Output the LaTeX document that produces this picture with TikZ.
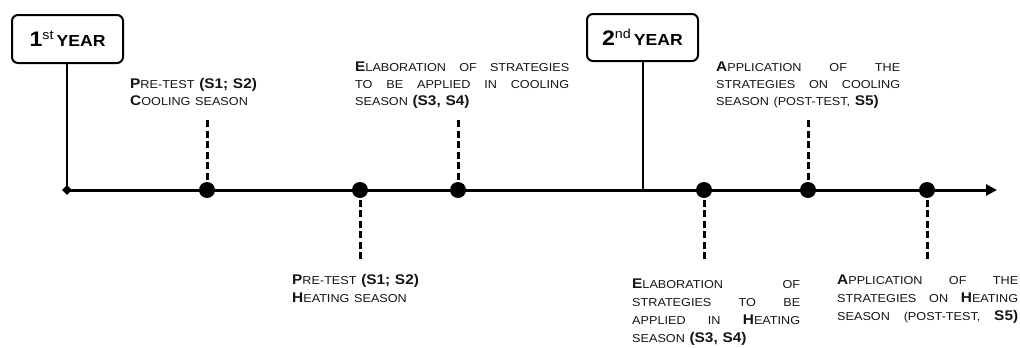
\documentclass[tikz,border=0pt]{standalone}
\usepackage{fontspec}
\usetikzlibrary{shapes.geometric,arrows.meta}
\newfontfamily\lab[FakeStretch=1.1]{Liberation Sans}
\definecolor{ink}{HTML}{141414}
\newcommand\Cp[1]{{\fontsize{14}{17}\selectfont\bfseries #1}}
\newcommand\Sm[1]{{\fontsize{11.5}{17}\selectfont #1}}
\newcommand\Bd[1]{{\fontsize{14}{17}\selectfont\bfseries #1}}
\newcommand\Jl[2]{\leavevmode\hbox to #1{\spaceskip=3.5pt plus 1fil\relax #2}}
\tikzset{
  yearbox/.style={draw=black, line width=2pt, rounded corners=6pt, minimum width=111pt, minimum height=48pt, inner sep=0pt, font=\lab, text=black},
  yearline/.style={line width=1.8pt},
  dot/.style={circle, fill=black, minimum size=16pt, inner sep=0pt},
  stem/.style={line width=3pt, dash pattern=on 7pt off 3.5pt},
  lbl/.style={anchor=base west, inner sep=0pt, align=left, text=ink},
  toplbl/.style={lbl, font=\lab\fontsize{14}{17}\selectfont},
  botlbl/.style={lbl, font=\lab\fontsize{14}{18}\selectfont},
}
\begin{document}
\begin{tikzpicture}[x=1pt,y=-1pt]
\useasboundingbox (0,0) rectangle (1020,348);
% year boxes
\node[yearbox] (y1) at (67.5,39) {{\fontsize{21}{21}\selectfont\bfseries 1}\raisebox{6.5pt}{\fontsize{13}{13}\selectfont st} {\fontsize{16}{16}\selectfont\bfseries YEAR}\hspace{5pt}};
\node[yearbox, minimum height=47pt] (y2) at (642.5,37.5) {{\fontsize{21}{21}\selectfont\bfseries 2}\raisebox{6.5pt}{\fontsize{13}{13}\selectfont nd} {\fontsize{16}{16}\selectfont\bfseries YEAR}};
% timeline
\coordinate (t0) at (67,190);
\coordinate (tend) at (997,190);
\coordinate (t2) at (643,190);
\draw[line width=3pt, -{Triangle[length=11pt,width=11pt]}] (t0) -- (tend);
\node[diamond, fill=black, minimum size=10pt, inner sep=0pt] (start) at (t0) {};
\draw[yearline] (y1.south -| t0) -- (t0);
\draw[yearline] (y2.south -| t2) -- (t2);
% dots
\node[dot] (d1) at (207,190) {};
\node[dot] (d2) at (360,190) {};
\node[dot] (d3) at (458,190) {};
\node[dot] (d4) at (704,190) {};
\node[dot] (d5) at (808,190) {};
\node[dot] (d6) at (927,190) {};
% dashed stems
\coordinate (u1) at (207,120);
\coordinate (u3) at (458,120);
\coordinate (u5) at (808,120);
\coordinate (w2) at (360,259);
\coordinate (w4) at (704,259);
\coordinate (w6) at (927,259);
\draw[stem] (u1) -- (d1.center);
\draw[stem] (u3) -- (d3.center);
\draw[stem] (u5) -- (d5.center);
\draw[stem] (w2) -- (d2.center);
\draw[stem] (w4) -- (d4.center);
\draw[stem] (w6) -- (d6.center);
% labels
\node[toplbl, text width=180pt] (l1) at (130,88) {\Cp{P}\Sm{RE-TEST} \Bd{(S1; S2)}\\\Cp{C}\Sm{OOLING SEASON}};
\node[toplbl, text width=214pt] (l2) at (355,71) {\Jl{214pt}{\Cp{E}\Sm{LABORATION OF STRATEGIES}}\\\Jl{214pt}{\Sm{TO BE APPLIED IN COOLING}}\\\Sm{SEASON} \Bd{(S3, S4)}};
\node[toplbl, text width=184pt] (l3) at (716,71) {\Jl{184pt}{\Cp{A}\Sm{PPLICATION OF THE}}\\\Jl{184pt}{\Sm{STRATEGIES ON COOLING}}\\\Sm{SEASON (POST-TEST,} \Bd{S5)}};
\node[botlbl, text width=180pt] (l4) at (292,284) {\Cp{P}\Sm{RE-TEST} \Bd{(S1; S2)}\\\Cp{H}\Sm{EATING SEASON}};
\node[botlbl, text width=168pt] (l5) at (632,288) {\Jl{168pt}{\Cp{E}\Sm{LABORATION OF}}\\\Jl{168pt}{\Sm{STRATEGIES TO BE}}\\\Jl{168pt}{\Sm{APPLIED IN} \Cp{H}\Sm{EATING}}\\\Sm{SEASON} \Bd{(S3, S4)}};
\node[botlbl, text width=181pt] (l6) at (837,284) {\Jl{181pt}{\Cp{A}\Sm{PPLICATION OF THE}}\\\Jl{181pt}{\Sm{STRATEGIES ON} \Cp{H}\Sm{EATING}}\\\Jl{181pt}{\Sm{SEASON (POST-TEST,} \Bd{S5)}}};
\end{tikzpicture}
\end{document}
